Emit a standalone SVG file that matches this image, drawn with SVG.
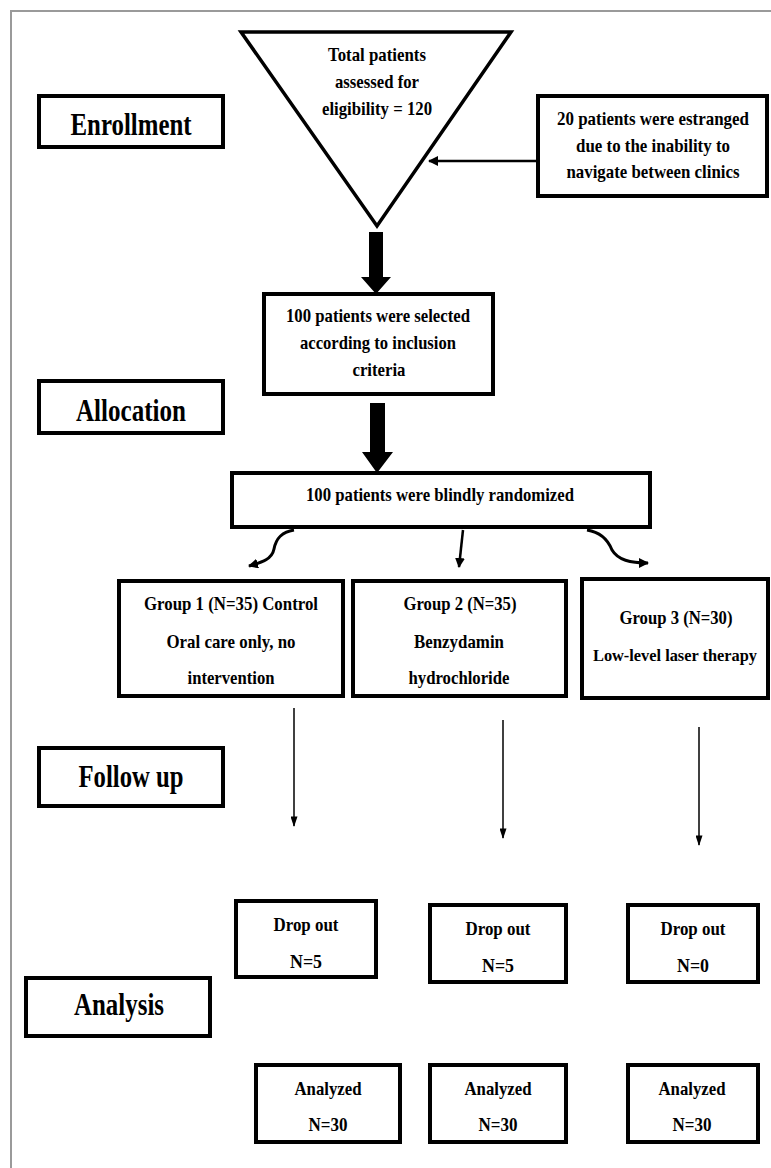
<svg xmlns="http://www.w3.org/2000/svg" width="771" height="1168" viewBox="0 0 771 1168">
<style>
.box{fill:#fff;stroke:#000;stroke-width:4}
.t{font-family:"Liberation Serif","Times New Roman",serif;font-weight:bold;font-size:19px;fill:#000;text-anchor:middle}
.lbl{font-family:"Liberation Serif","Times New Roman",serif;font-weight:bold;font-size:32px;fill:#000;text-anchor:middle}
.ln{fill:none;stroke:#000}
</style>
<defs>
<marker id="ah" viewBox="0 0 10 10" refX="9" refY="5" markerWidth="10" markerHeight="10" markerUnits="userSpaceOnUse" orient="auto">
<path d="M0,0 L10,5 L0,10 z" fill="#000"/>
</marker>
<marker id="ahs" viewBox="0 0 12 8" refX="11" refY="4" markerWidth="11" markerHeight="7" markerUnits="userSpaceOnUse" orient="auto">
<path d="M0,0 L12,4 L0,8 z" fill="#000"/>
</marker>
</defs>
<rect width="771" height="1168" fill="#fff"/>
<path d="M11,1168 L11,11 L771,11" fill="none" stroke="#9a9a9a" stroke-width="2"/>

<g id="connectors">
<path class="ln" d="M537,161 L429,161" stroke-width="2.5" marker-end="url(#ah)"/>
<path d="M369,232 L383,232 L383,277 L391,277 L376,294 L361,277 L369,277 Z" fill="#000"/>
<path d="M370,403 L385,403 L385,452 L393,452 L377,473 L362,452 L370,452 Z" fill="#000"/>
<path class="ln" d="M294,530 C281,532 276,539 274,549 C272,559 263,562 249,566" stroke-width="3" marker-end="url(#ah)"/>
<path class="ln" d="M463,530 L459,567" stroke-width="2.5" marker-end="url(#ah)"/>
<path class="ln" d="M587,530 C600,532 608,540 612,550 C618,560 630,563 648,563" stroke-width="3" marker-end="url(#ah)"/>
<path class="ln" d="M294,708 L294,826" stroke-width="1.5" marker-end="url(#ahs)"/>
<path class="ln" d="M503,720 L503,838" stroke-width="1.5" marker-end="url(#ahs)"/>
<path class="ln" d="M699,727 L699,845" stroke-width="1.5" marker-end="url(#ahs)"/>
</g>

<g id="enrollment">
<rect class="box" x="39" y="96" width="184" height="51"/>
<text class="lbl" x="131" y="135" textLength="121" lengthAdjust="spacingAndGlyphs">Enrollment</text>
</g>

<g id="total">
<path d="M241,32 L511,32 L377,226 Z" fill="#fff" stroke="#000" stroke-width="3.5" stroke-linejoin="miter"/>
<text class="t" x="377" y="61" textLength="98" lengthAdjust="spacingAndGlyphs">Total patients</text>
<text class="t" x="377" y="88" textLength="84" lengthAdjust="spacingAndGlyphs">assessed for</text>
<text class="t" x="377" y="115" textLength="110" lengthAdjust="spacingAndGlyphs">eligibility = 120</text>
</g>

<g id="estranged">
<rect class="box" x="538" y="96" width="229" height="100"/>
<text class="t" x="653" y="125" textLength="192" lengthAdjust="spacingAndGlyphs">20 patients were estranged</text>
<text class="t" x="653" y="152" textLength="154" lengthAdjust="spacingAndGlyphs">due to the inability to</text>
<text class="t" x="653" y="178" textLength="173" lengthAdjust="spacingAndGlyphs">navigate between clinics</text>
</g>

<g id="selected">
<rect class="box" x="264" y="294" width="229" height="100"/>
<text class="t" x="378" y="322" textLength="184" lengthAdjust="spacingAndGlyphs">100 patients were selected</text>
<text class="t" x="378" y="349" textLength="156" lengthAdjust="spacingAndGlyphs">according to inclusion</text>
<text class="t" x="379" y="376" textLength="53" lengthAdjust="spacingAndGlyphs">criteria</text>
</g>

<g id="allocation">
<rect class="box" x="39" y="381" width="184" height="52"/>
<text class="lbl" x="131" y="421" textLength="110" lengthAdjust="spacingAndGlyphs">Allocation</text>
</g>

<g id="randomized">
<rect class="box" x="232" y="473" width="418" height="54"/>
<text class="t" x="440" y="501" textLength="268" lengthAdjust="spacingAndGlyphs">100 patients were blindly randomized</text>
</g>

<g id="group1">
<rect class="box" x="119" y="581" width="224" height="115"/>
<text class="t" x="231" y="610" textLength="174" lengthAdjust="spacingAndGlyphs">Group 1 (N=35) Control</text>
<text class="t" x="231" y="648" textLength="129" lengthAdjust="spacingAndGlyphs">Oral care only, no</text>
<text class="t" x="231" y="684" textLength="87" lengthAdjust="spacingAndGlyphs">intervention</text>
</g>

<g id="group2">
<rect class="box" x="353" y="581" width="213" height="115"/>
<text class="t" x="460" y="610" textLength="113" lengthAdjust="spacingAndGlyphs">Group 2 (N=35)</text>
<text class="t" x="459" y="648" textLength="90" lengthAdjust="spacingAndGlyphs">Benzydamin</text>
<text class="t" x="459" y="684" textLength="101" lengthAdjust="spacingAndGlyphs">hydrochloride</text>
</g>

<g id="group3">
<rect class="box" x="582" y="579" width="186" height="119"/>
<text class="t" x="676" y="624" textLength="113" lengthAdjust="spacingAndGlyphs">Group 3 (N=30)</text>
<text class="t" x="675" y="661" style="font-size:16px" textLength="164" lengthAdjust="spacingAndGlyphs">Low-level laser therapy</text>
</g>

<g id="followup">
<rect class="box" x="39" y="748" width="184" height="58"/>
<text class="lbl" x="131" y="787" textLength="105" lengthAdjust="spacingAndGlyphs">Follow up</text>
</g>

<g id="dropout1">
<rect class="box" x="236" y="901" width="140" height="76"/>
<text class="t" x="306" y="931" textLength="65" lengthAdjust="spacingAndGlyphs">Drop out</text>
<text class="t" x="306" y="968" textLength="32" lengthAdjust="spacingAndGlyphs">N=5</text>
</g>

<g id="dropout2">
<rect class="box" x="430" y="905" width="136" height="77"/>
<text class="t" x="498" y="935" textLength="65" lengthAdjust="spacingAndGlyphs">Drop out</text>
<text class="t" x="498" y="972" textLength="32" lengthAdjust="spacingAndGlyphs">N=5</text>
</g>

<g id="dropout3">
<rect class="box" x="628" y="905" width="130" height="77"/>
<text class="t" x="693" y="935" textLength="65" lengthAdjust="spacingAndGlyphs">Drop out</text>
<text class="t" x="693" y="972" textLength="32" lengthAdjust="spacingAndGlyphs">N=0</text>
</g>

<g id="analysis">
<rect class="box" x="26" y="978" width="184" height="58"/>
<text class="lbl" x="119" y="1015" textLength="90" lengthAdjust="spacingAndGlyphs">Analysis</text>
</g>

<g id="analyzed1">
<rect class="box" x="256" y="1065" width="144" height="77"/>
<text class="t" x="328" y="1095" textLength="67" lengthAdjust="spacingAndGlyphs">Analyzed</text>
<text class="t" x="328" y="1131" textLength="39" lengthAdjust="spacingAndGlyphs">N=30</text>
</g>

<g id="analyzed2">
<rect class="box" x="430" y="1065" width="136" height="77"/>
<text class="t" x="498" y="1095" textLength="67" lengthAdjust="spacingAndGlyphs">Analyzed</text>
<text class="t" x="498" y="1131" textLength="39" lengthAdjust="spacingAndGlyphs">N=30</text>
</g>

<g id="analyzed3">
<rect class="box" x="628" y="1065" width="130" height="77"/>
<text class="t" x="692" y="1095" textLength="67" lengthAdjust="spacingAndGlyphs">Analyzed</text>
<text class="t" x="692" y="1131" textLength="39" lengthAdjust="spacingAndGlyphs">N=30</text>
</g>
</svg>
